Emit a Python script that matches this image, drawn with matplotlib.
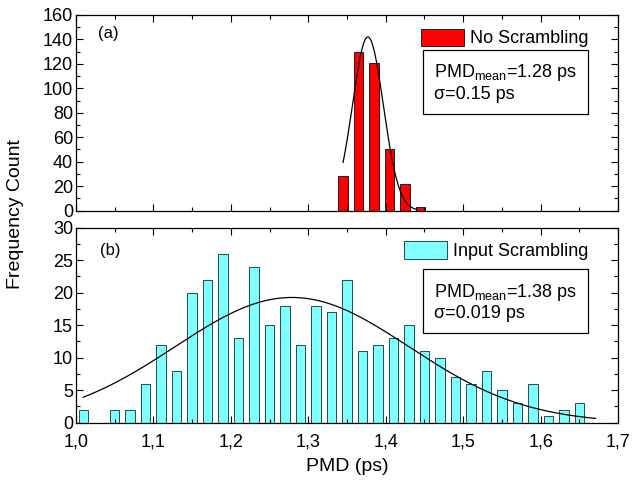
import numpy as np
import matplotlib
matplotlib.use("Agg")
import matplotlib.pyplot as plt
from matplotlib.ticker import MultipleLocator

plt.rcParams['font.family'] = ['Liberation Sans', 'DejaVu Sans']
plt.rcParams['mathtext.fontset'] = 'custom'
plt.rcParams['mathtext.rm'] = 'Liberation Sans'
plt.rcParams['mathtext.it'] = 'Liberation Sans'

# (a) no scrambling histogram
pmd_a = [1.345, 1.365, 1.385, 1.405, 1.425, 1.445]
count_a = [28, 130, 121, 50, 22, 3]
# gaussian fit (center, sigma, amplitude, x range)
fit_a = (1.377, 0.020, 142.0)
fit_a_range = (1.345, 1.44)

# (b) input scrambling histogram
pmd_b = [1.01, 1.03, 1.05, 1.07, 1.09, 1.11, 1.13, 1.15, 1.17, 1.19, 1.21,
         1.23, 1.25, 1.27, 1.29, 1.31, 1.33, 1.35, 1.37, 1.39, 1.41, 1.43,
         1.45, 1.47, 1.49, 1.51, 1.53, 1.55, 1.57, 1.59, 1.61, 1.63, 1.65]
count_b = [2, 0, 2, 2, 6, 12, 8, 20, 22, 26, 13,
           24, 15, 18, 12, 18, 17, 22, 11, 12, 13, 15,
           11, 10, 7, 6, 8, 5, 3, 6, 1, 2, 3]
fit_b = (1.279, 0.151, 19.25)
fit_b_range = (1.0095, 1.671)

xticks = [1.0, 1.1, 1.2, 1.3, 1.4, 1.5, 1.6, 1.7]
xticklabels = ['1,0', '1,1', '1,2', '1,3', '1,4', '1,5', '1,6', '1,7']

bar_w = 0.0125
fs = 13
fs_lab = 14


def gauss_curve(params, xr):
    c, s, a = params
    x = np.linspace(xr[0], xr[1], 300)
    return x, a * np.exp(-(x - c) ** 2 / (2 * s ** 2))


def style_axes(ax, ymax, ymajor, yminor):
    ax.set_xlim(1.0, 1.7)
    ax.set_ylim(0, ymax)
    ax.set_xticks(xticks)
    ax.xaxis.set_minor_locator(MultipleLocator(0.05))
    ax.yaxis.set_major_locator(MultipleLocator(ymajor))
    ax.yaxis.set_minor_locator(MultipleLocator(yminor))
    ax.tick_params(which='both', direction='in', top=True, right=True,
                   labelsize=fs, width=0.8)
    ax.tick_params(which='major', length=5)
    ax.tick_params(which='minor', length=3)
    ax.tick_params(axis='y', pad=2)
    ax.tick_params(axis='x', pad=8)
    for sp in ax.spines.values():
        sp.set_linewidth(0.9)


fig = plt.figure(figsize=(6.32, 4.82), dpi=100)
ax1 = fig.add_axes([0.120, 0.563, 0.858, 0.406])
ax2 = fig.add_axes([0.120, 0.123, 0.858, 0.405])

# top panel
ax1.bar(pmd_a, count_a, width=bar_w, color='#FF0000', edgecolor='#202020',
        linewidth=0.7, label='No Scrambling')
xa, ya = gauss_curve(fit_a, fit_a_range)
ax1.plot(xa, ya, color='black', linewidth=0.9)
style_axes(ax1, 160, 20, 10)
ax1.set_xticklabels([])
ax1.text(0.04, 0.88, '(a)', transform=ax1.transAxes, fontsize=fs - 1)
ax1.legend(loc='upper right', bbox_to_anchor=(0.945, 0.93), frameon=False,
           fontsize=fs, handlelength=2.4, handleheight=1.1, handletextpad=0.3,
           borderpad=0, borderaxespad=0)
ax1.text(0.66, 0.57, 'PMD$_{\\mathrm{mean}}$=1.28 ps\nσ=0.15 ps',
         transform=ax1.transAxes, fontsize=fs, linespacing=1.2,
         bbox=dict(boxstyle='square,pad=0.6', fc='white', ec='black', lw=0.9))

# bottom panel
ax2.bar(pmd_b, count_b, width=bar_w, color='#80FFFF', edgecolor='#1f4f4f',
        linewidth=0.7, label='Input Scrambling')
xb, yb = gauss_curve(fit_b, fit_b_range)
ax2.plot(xb, yb, color='black', linewidth=0.9)
style_axes(ax2, 30, 5, 2.5)
ax2.set_xticklabels(xticklabels)
ax2.text(0.045, 0.86, '(b)', transform=ax2.transAxes, fontsize=fs - 1)
ax2.legend(loc='upper right', bbox_to_anchor=(0.945, 0.93), frameon=False,
           fontsize=fs, handlelength=2.4, handleheight=1.1, handletextpad=0.3,
           borderpad=0, borderaxespad=0)
ax2.text(0.66, 0.535, 'PMD$_{\\mathrm{mean}}$=1.38 ps\nσ=0.019 ps',
         transform=ax2.transAxes, fontsize=fs, linespacing=1.2,
         bbox=dict(boxstyle='square,pad=0.6', fc='white', ec='black', lw=0.9))
ax2.set_xlabel('PMD (ps)', fontsize=fs_lab, labelpad=5)

fig.text(0.025, 1 - 214 / 482, 'Frequency Count', rotation=90,
         fontsize=fs_lab, ha='center', va='center')

fig.savefig('out.png', dpi=100)
